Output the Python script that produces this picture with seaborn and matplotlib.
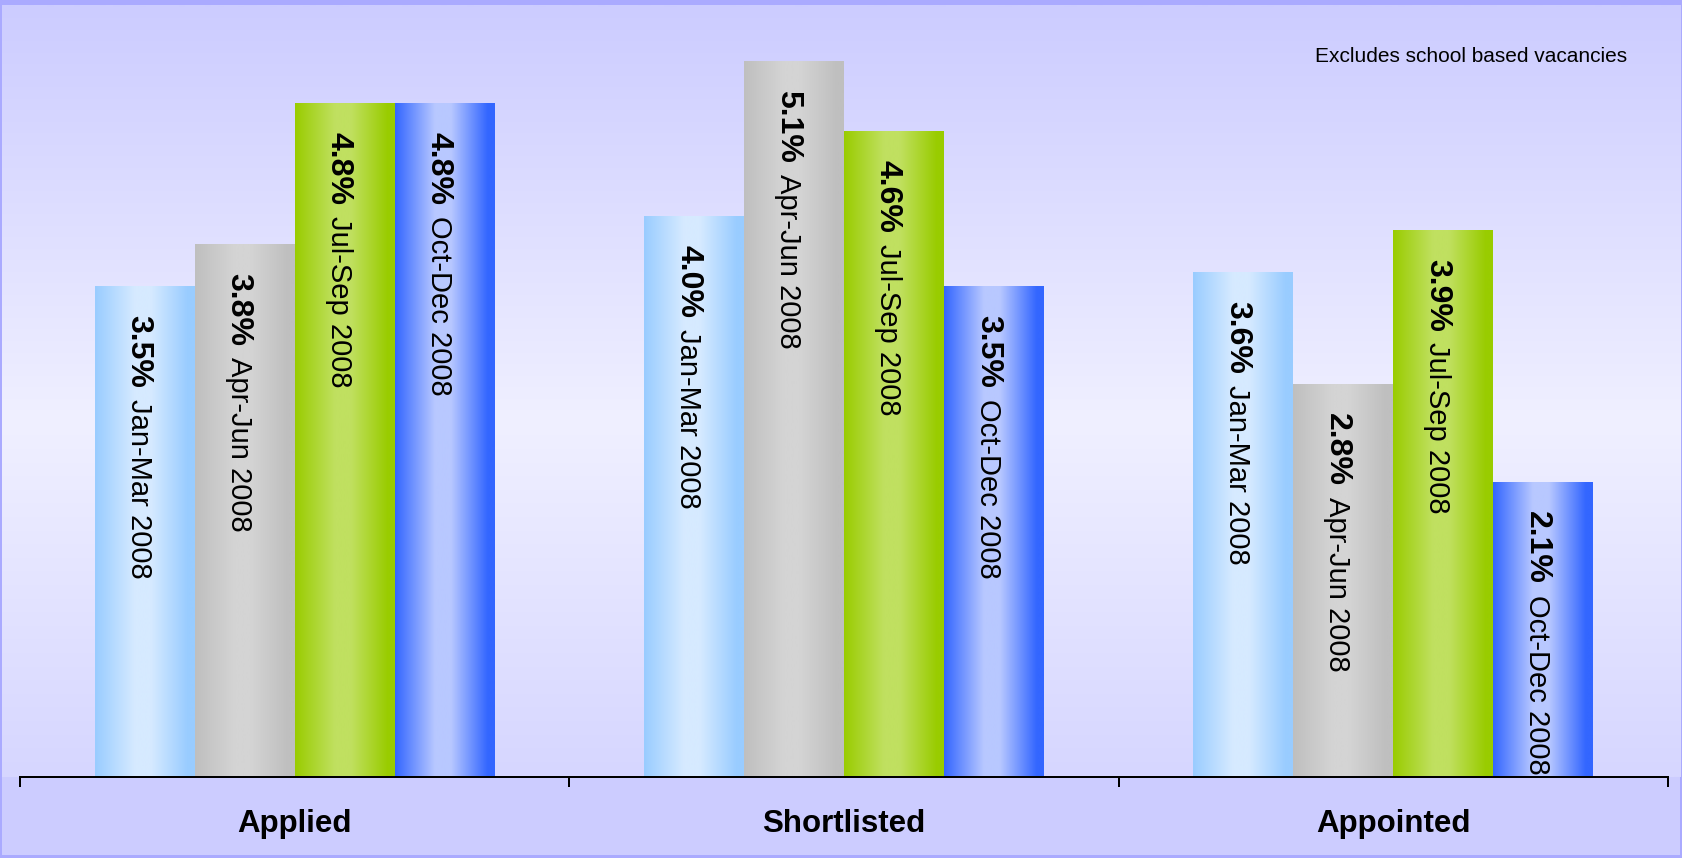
import numpy as np
import pandas as pd
import matplotlib
matplotlib.use('Agg')
import matplotlib.pyplot as plt
import seaborn as sns
from matplotlib.colors import to_rgb
from matplotlib.patches import Rectangle

# ---------------- data ----------------
stages = ['Applied', 'Shortlisted', 'Appointed']
periods = ['Jan-Mar 2008', 'Apr-Jun 2008', 'Jul-Sep 2008', 'Oct-Dec 2008']
jan_mar = [3.5, 4.0, 3.6]
apr_jun = [3.8, 5.1, 2.8]
jul_sep = [4.8, 4.6, 3.9]
oct_dec = [4.8, 3.5, 2.1]
note = 'Excludes school based vacancies'

edge_colors = ['#99ccff', '#bfbfbf', '#99cc00', '#3366ff']
light_colors = ['#d6eaff', '#d4d4d4', '#c0e060', '#b8c8ff']

series = [jan_mar, apr_jun, jul_sep, oct_dec]
df = pd.DataFrame({
    'stage': [s for vals in series for s in stages],
    'period': [p for p, vals in zip(periods, series) for _ in vals],
    'value': [v for vals in series for v in vals],
})

# ---------------- style ----------------
sns.set_style('white')
plt.rcParams['font.family'] = ['Liberation Sans', 'DejaVu Sans']

W, H = 1682, 858
fig = plt.figure(figsize=(W / 100, H / 100), dpi=100)
fig.patch.set_facecolor('#aaaaff')

# background panel with vertical gradient
bg = fig.add_axes([2 / W, 3 / H, (W - 4) / W, (H - 8) / H], zorder=0)
bg.set_xlim(0, 1)
bg.set_ylim(0, 1)
bg.axis('off')
bg.add_patch(Rectangle((0, 0), 1, 1, color='#ccccff', transform=bg.transAxes))
axis_frac = (81 - 3) / (H - 8)
t = np.linspace(0, 1, 256)
stops_t = [0.0, 0.46, 1.0]
stops_c = [to_rgb('#d6d6ff'), to_rgb('#f0f0ff'), to_rgb('#ccccff')]
grad = np.stack([np.interp(t, stops_t, [c[k] for c in stops_c]) for k in range(3)], axis=-1)
bg.imshow(grad[:, None, :], extent=[0, 1, axis_frac, 1], origin='lower',
          aspect='auto', interpolation='bilinear', zorder=1)
bg.set_xlim(0, 1)
bg.set_ylim(0, 1)

# main axes
ax = fig.add_axes([20 / W, 81 / H, 1648 / W, 772 / H], zorder=2)
ax.set_facecolor('none')

sns.barplot(data=df, x='stage', y='value', hue='period', order=stages,
            hue_order=periods, palette=dict(zip(periods, edge_colors)),
            width=0.728, saturation=1, legend=False, errorbar=None,
            linewidth=0, ax=ax)

# horizontal gradient on each bar
u = np.linspace(0, 1, 256)
prof_t = [0.0, 0.40, 0.56, 0.93, 1.0]
for i, cont in enumerate(ax.containers):
    e = to_rgb(edge_colors[i])
    l = to_rgb(light_colors[i])
    cols = [e, l, l, e, e]
    img = np.stack([np.interp(u, prof_t, [c[k] for c in cols]) for k in range(3)], axis=-1)
    for bar in cont:
        x0 = bar.get_x()
        w = bar.get_width()
        h = bar.get_height()
        im = ax.imshow(img[None, :, :], extent=[x0, x0 + w, 0, h], aspect='auto',
                       interpolation='bilinear', zorder=bar.get_zorder() + 0.1)
        im.set_clip_path(bar)

ax.set_xlim(-0.5, 2.5)
ax.set_ylim(0, 5.5)
ax.set_xlabel('')
ax.set_ylabel('')
ax.set_yticks([])
for side in ['top', 'left', 'right']:
    ax.spines[side].set_visible(False)
ax.spines['bottom'].set_linewidth(1.44)
ax.spines['bottom'].set_color('black')
ax.set_xticks([-0.5, 0.5, 1.5, 2.5], minor=True)
ax.tick_params(axis='x', which='minor', length=7.2, width=1.44, color='black',
               direction='out', bottom=True)
ax.tick_params(axis='x', which='major', length=0, pad=23, labelsize=22.5,
               labelcolor='black')
for lab in ax.get_xticklabels():
    lab.set_fontweight('bold')

# bar labels
bold_texts = []
for i, cont in enumerate(ax.containers):
    for bar, v in zip(cont, cont.datavalues):
        cx = bar.get_x() + bar.get_width() / 2
        top = bar.get_height()
        tb = ax.annotate(f'{v:.1f}%', xy=(cx, top), xycoords='data',
                         xytext=(-14, -29), textcoords='offset pixels',
                         rotation=270, rotation_mode='anchor', ha='left',
                         va='baseline', fontsize=23, fontweight='bold',
                         color='black', zorder=5)
        bold_texts.append((tb, cx, top, periods[i]))

fig.canvas.draw()
renderer = fig.canvas.get_renderer()
for tb, cx, top, per in bold_texts:
    blen = tb.get_window_extent(renderer).height
    ax.annotate(per, xy=(cx, top), xycoords='data',
                xytext=(-14, -29 - blen - 11), textcoords='offset pixels',
                rotation=270, rotation_mode='anchor', ha='left', va='baseline',
                fontsize=21, color='black', zorder=5)

fig.text(1627 / W, (H - 62) / H, note, ha='right', va='baseline',
         fontsize=15, color='black')

fig.savefig('out.png', dpi=100, facecolor=fig.get_facecolor())
